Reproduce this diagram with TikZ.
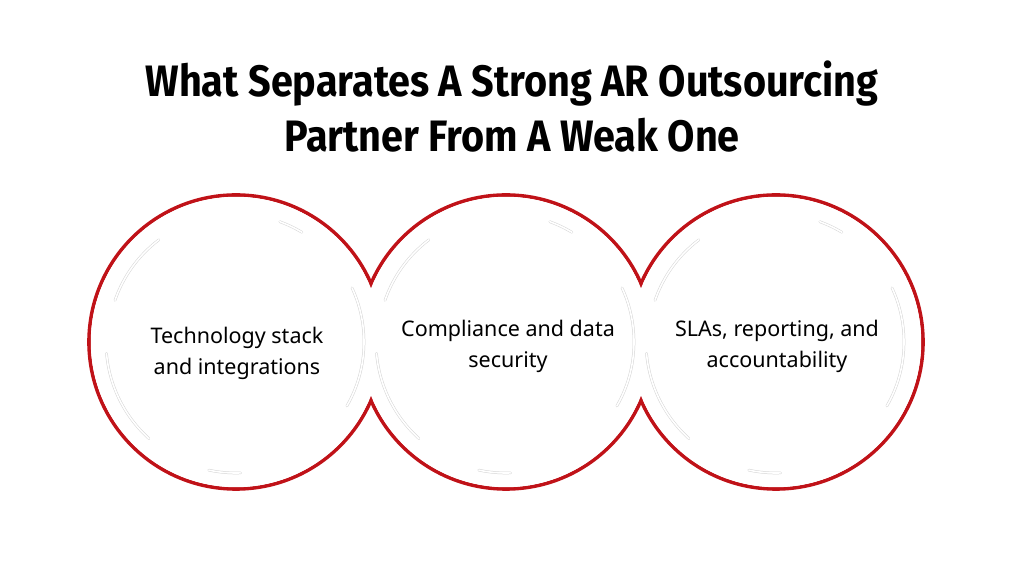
\documentclass[tikz,border=0pt]{standalone}
\usepackage{fontspec}
\setmainfont{Noto Sans}
\newfontfamily\titlefont[FakeStretch=0.9]{Fira Sans Bold}
\definecolor{ringred}{RGB}{192,18,24}
\definecolor{decorgray}{RGB}{212,212,212}
\tikzset{
  ring/.style={circle, draw=ringred, line width=3.6pt, minimum size=294pt, inner sep=0pt},
  decor/.style={draw=decorgray, line width=0.5pt, double=white, double distance=1.6pt, line cap=round},
  titletext/.style={anchor=base, font=\titlefont\fontsize{44}{48}\selectfont, inner sep=0pt},
  bodytext/.style={anchor=base, font=\fontsize{21.5}{25}\selectfont, inner sep=0pt, text=black},
}
\newcommand{\decorarcs}[1]{%
  \draw[decor] ([shift={(127:128pt)}]#1.center) arc (127:161:128pt);
  \draw[decor] ([shift={(185:130pt)}]#1.center) arc (185:228:130pt);
  \draw[decor] ([shift={(59:128pt)}]#1.center) arc (59:70:128pt);
  \draw[decor] ([shift={(-30:128pt)}]#1.center) arc (-30:25:128pt);
  \draw[decor] ([shift={(258:131pt)}]#1.center) arc (258:272:131pt);
}
\begin{document}
\begin{tikzpicture}[x=1pt,y=1pt]
\fill[white] (0,0) rectangle (1012,569);
\useasboundingbox (0,0) rectangle (1012,569);
% title
\node[titletext] (t1) at (512,569-97) {What Separates A Strong AR Outsourcing};
\node[titletext] (t2) at (512,569-152) {Partner From A Weak One};
% rings
\node[ring] (c1) at (236,569-342) {};
\node[ring] (c2) at (506,569-342) {};
\node[ring] (c3) at (776,569-342) {};
\foreach \c in {c1,c2,c3}{
  \fill[white] (\c.center) circle (145.2pt);
}
\decorarcs{c1}
\decorarcs{c2}
\decorarcs{c3}
% texts
\node[bodytext] (a1) at (237,569-344) {Technology stack};
\node[bodytext] (a2) at (237,569-375) {and integrations};
\node[bodytext] (b1) at (508,569-337) {Compliance and data};
\node[bodytext] (b2) at (508,569-368) {security};
\node[bodytext] (d1) at (777,569-337) {SLAs, reporting, and};
\node[bodytext] (d2) at (777,569-368) {accountability};
\end{tikzpicture}
\end{document}
